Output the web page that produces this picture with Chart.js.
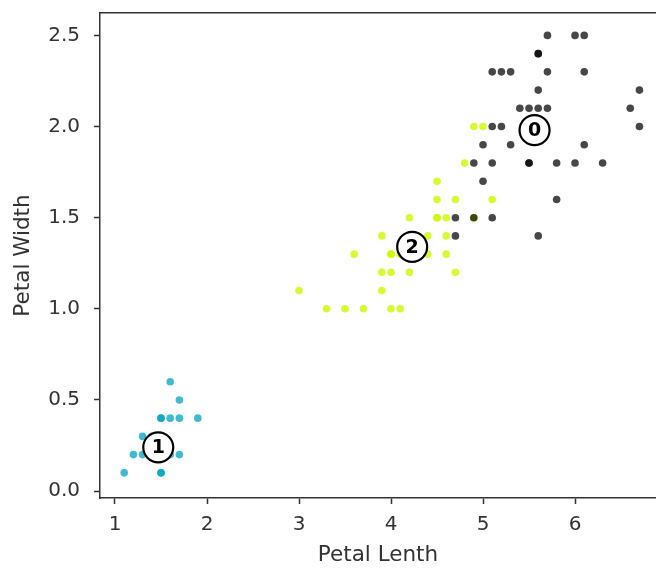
<!DOCTYPE html>
<html><head><meta charset="utf-8">
<script src="https://cdn.jsdelivr.net/npm/chart.js@4/dist/chart.umd.min.js"></script>
<style>html,body{margin:0;padding:0;background:#fff;}</style>
</head><body>
<canvas id="c" width="656" height="569"></canvas>
<script>
const xTicks = [1, 2, 3, 4, 5, 6];
const yTicks = [0, 0.5, 1, 1.5, 2, 2.5];

// cluster 0 (dark)
const cluster0Length = [4.7, 5.6, 4.7, 4.9, 5.1, 5.8, 5.0, 4.9, 5.1, 5.5, 5.5, 5.8, 6.0, 6.3, 5.0, 5.3, 6.1, 5.1, 5.2, 6.7, 5.4, 5.5, 5.6, 5.7, 6.6, 5.6, 6.7, 5.1, 5.2, 5.3, 5.7, 6.1, 5.6, 5.6, 5.7, 6.0, 6.1];
const cluster0Width  = [1.4, 1.4, 1.5, 1.5, 1.5, 1.6, 1.7, 1.8, 1.8, 1.8, 1.8, 1.8, 1.8, 1.8, 1.9, 1.9, 1.9, 2.0, 2.0, 2.0, 2.1, 2.1, 2.1, 2.1, 2.1, 2.2, 2.2, 2.3, 2.3, 2.3, 2.3, 2.3, 2.4, 2.4, 2.5, 2.5, 2.5];

// cluster 1 (cyan)
const cluster1Length = [1.6, 1.7, 1.5, 1.5, 1.6, 1.7, 1.9, 1.3, 1.4, 1.2, 1.3, 1.4, 1.5, 1.6, 1.7, 1.1, 1.5, 1.5];
const cluster1Width  = [0.6, 0.5, 0.4, 0.4, 0.4, 0.4, 0.4, 0.3, 0.3, 0.2, 0.2, 0.2, 0.2, 0.2, 0.2, 0.1, 0.1, 0.1];

// cluster 2 (yellow-green)
const cluster2Length = [3.0, 3.3, 3.5, 3.7, 4.0, 4.1, 3.9, 3.9, 4.0, 4.2, 4.7, 3.6, 4.0, 4.0, 4.1, 4.4, 4.6, 3.9, 4.4, 4.6, 4.2, 4.5, 4.5, 4.6, 4.9, 4.5, 4.7, 5.1, 4.5, 4.8, 4.9, 5.0];
const cluster2Width  = [1.1, 1.0, 1.0, 1.0, 1.0, 1.0, 1.1, 1.2, 1.2, 1.2, 1.2, 1.3, 1.3, 1.3, 1.3, 1.3, 1.3, 1.4, 1.4, 1.4, 1.5, 1.5, 1.5, 1.5, 1.5, 1.6, 1.6, 1.6, 1.7, 1.8, 2.0, 2.0];

const centroidLabels = ['0', '1', '2'];
const centroidLength = [5.56, 1.47, 4.23];
const centroidWidth  = [1.98, 0.24, 1.34];

const toPts = (xs, ys) => xs.map((x, i) => ({x: x, y: ys[i]}));

const FONT = 'DejaVu Sans';
const AXC = '#333333';

const centroidText = {
  id: 'centroidText',
  afterDatasetsDraw(chart) {
    const meta = chart.getDatasetMeta(0);
    const ctx = chart.ctx;
    ctx.save();
    ctx.fillStyle = '#000';
    ctx.font = 'bold 19px "' + FONT + '"';
    ctx.textAlign = 'center';
    ctx.textBaseline = 'middle';
    meta.data.forEach((el, i) => {
      ctx.fillText(centroidLabels[i], el.x, el.y + 1);
    });
    ctx.restore();
  }
};

const zeroPad = s => { s.paddingTop = 0; s.paddingBottom = 0; s.paddingLeft = 0; s.paddingRight = 0; };

new Chart(document.getElementById('c'), {
  type: 'scatter',
  data: {
    datasets: [
      {
        label: 'centroids',
        data: toPts(centroidLength, centroidWidth),
        pointRadius: 15,
        backgroundColor: '#ffffff',
        borderColor: '#000000',
        borderWidth: 2.2
      },
      {
        label: 'cluster 0',
        data: toPts(cluster0Length, cluster0Width),
        pointRadius: 3.8,
        borderWidth: 0,
        backgroundColor: 'rgba(0,0,0,0.72)'
      },
      {
        label: 'cluster 1',
        data: toPts(cluster1Length, cluster1Width),
        pointRadius: 3.8,
        borderWidth: 0,
        backgroundColor: 'rgba(0,164,190,0.75)'
      },
      {
        label: 'cluster 2',
        data: toPts(cluster2Length, cluster2Width),
        pointRadius: 3.8,
        borderWidth: 0,
        backgroundColor: 'rgba(204,249,0,0.8)'
      }
    ]
  },
  options: {
    responsive: false,
    animation: false,
    events: [],
    layout: {padding: 0, autoPadding: false},
    plugins: {legend: {display: false}, tooltip: {enabled: false}, title: {display: false}},
    scales: {
      x: {
        type: 'linear', position: 'bottom', min: 0.837, max: 6.88,
        afterBuildTicks: s => { s.ticks = xTicks.map(v => ({value: v})); },
        afterFit: s => { s.height = 71; zeroPad(s); },
        grid: {display: true, drawOnChartArea: false, drawTicks: true, tickLength: 6, tickColor: AXC, tickWidth: 1.5},
        border: {display: true, color: AXC, width: 1.5},
        ticks: {padding: 9, color: AXC, font: {family: FONT, size: 20}, callback: v => String(v)},
        title: {display: true, text: 'Petal Lenth', color: AXC, font: {family: FONT, size: 21.5}, padding: {top: 0, bottom: 1}}
      },
      x2: {
        type: 'linear', position: 'top', min: 0.837, max: 6.88,
        afterFit: s => { s.height = 13; zeroPad(s); },
        grid: {display: false, drawTicks: false},
        border: {display: true, color: AXC, width: 1.5},
        ticks: {display: false}
      },
      y: {
        type: 'linear', position: 'left', min: -0.038, max: 2.623,
        afterBuildTicks: s => { s.ticks = yTicks.map(v => ({value: v})); },
        afterFit: s => { s.width = 100; zeroPad(s); },
        grid: {display: true, drawOnChartArea: false, drawTicks: true, tickLength: 6, tickColor: AXC, tickWidth: 1.5},
        border: {display: true, color: AXC, width: 1.5},
        ticks: {padding: 14, color: AXC, font: {family: FONT, size: 20}, callback: v => Number(v).toFixed(1)},
        title: {display: true, text: 'Petal Width', color: AXC, font: {family: FONT, size: 21.5}, padding: {top: 11, bottom: 0}}
      }
    }
  },
  plugins: [centroidText]
});
</script>
</body></html>
